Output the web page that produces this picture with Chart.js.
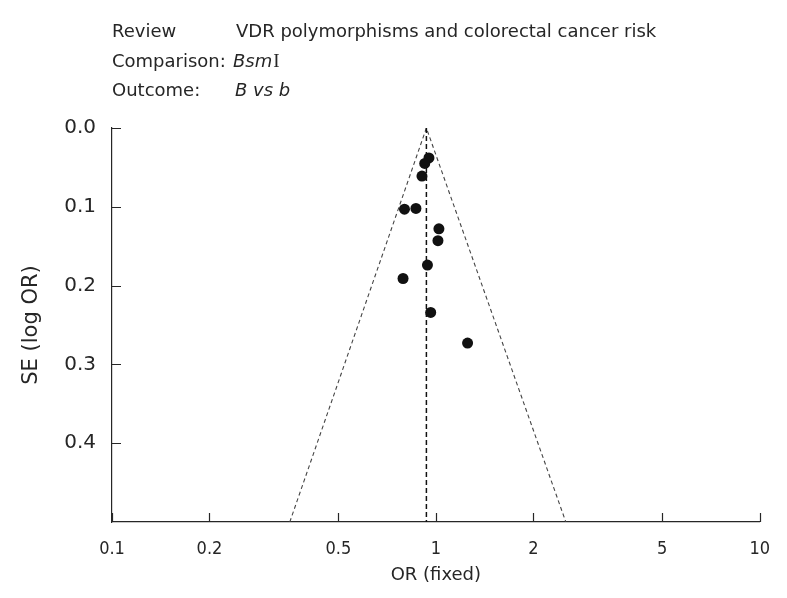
<!DOCTYPE html>
<html>
<head>
<meta charset="utf-8">
<script src="https://cdn.jsdelivr.net/npm/chart.js@4.4.0/dist/chart.umd.min.js"></script>
<style>
html,body{margin:0;padding:0;background:#fff;}
</style>
</head>
<body>
<canvas id="funnelChart" width="787" height="598"></canvas>
<script>
// study estimates
const studyOR = [0.952, 0.924, 0.906, 0.800, 0.868, 1.022, 1.015, 0.942, 0.792, 0.964, 1.253];
const studySE = [0.038, 0.045, 0.061, 0.103, 0.102, 0.128, 0.143, 0.174, 0.191, 0.234, 0.273];

// pooled estimate line and 95% funnel limits
const pooledOR = [0.935, 0.935];
const pooledSE = [0, 0.5];
const funnelOR = [0.354, 0.935, 2.52];
const funnelSE = [0.5, 0, 0.5];

const xTicks = [0.1, 0.2, 0.5, 1, 2, 5, 10];
const yTicks = [0, 0.1, 0.2, 0.3, 0.4];

const headerLabels = ['Review', 'Comparison:', 'Outcome:'];

const axisColor = '#262626';
const textColor = '#262626';

const toPoints = (xs, ys) => xs.map((x, i) => ({x: x, y: ys[i]}));

const headerPlugin = {
    id: 'header',
    afterDraw(chart) {
        const ctx = chart.ctx;
        ctx.save();
        ctx.fillStyle = textColor;
        ctx.textBaseline = 'alphabetic';
        ctx.textAlign = 'left';
        const rows = [37, 67, 96];
        ctx.font = '18px "DejaVu Sans"';
        headerLabels.forEach((t, i) => ctx.fillText(t, 112, rows[i]));
        // row 1
        ctx.fillText('VDR polymorphisms and colorectal cancer risk', 236, rows[0]);
        // row 2: italic Bsm + roman I
        ctx.font = 'italic 18px "DejaVu Sans"';
        ctx.fillText('Bsm', 233, rows[1]);
        const w = ctx.measureText('Bsm').width;
        ctx.font = '19px "Liberation Serif"';
        ctx.fillText('I', 233 + w + 1, rows[1]);
        // row 3
        ctx.font = 'italic 18px "DejaVu Sans"';
        ctx.fillText('B vs b', 235, rows[2]);
        ctx.restore();
    }
};

const inwardTicks = {
    id: 'inwardTicks',
    afterDraw(chart) {
        const {ctx, chartArea, scales} = chart;
        ctx.save();
        ctx.strokeStyle = axisColor;
        ctx.lineWidth = 1.2;
        ctx.beginPath();
        scales.x.ticks.forEach(t => {
            const px = Math.round(scales.x.getPixelForValue(t.value)) + 0.5;
            ctx.moveTo(px, chartArea.bottom);
            ctx.lineTo(px, chartArea.bottom - 9);
        });
        scales.y.ticks.forEach(t => {
            const py = Math.round(scales.y.getPixelForValue(t.value)) + 0.5;
            ctx.moveTo(chartArea.left, py);
            ctx.lineTo(chartArea.left + 9, py);
        });
        ctx.stroke();
        ctx.restore();
    }
};

const ctx = document.getElementById('funnelChart').getContext('2d');

const data = {
    datasets: [
        {
            label: 'Studies',
            data: toPoints(studyOR, studySE),
            backgroundColor: '#111',
            borderColor: '#111',
            borderWidth: 0,
            pointRadius: 5.5,
            showLine: false,
            order: 1
        },
        {
            label: 'Pooled',
            data: toPoints(pooledOR, pooledSE),
            showLine: true,
            borderColor: '#111',
            borderWidth: 1.5,
            borderDash: [5, 3],
            pointRadius: 0,
            order: 2
        },
        {
            label: 'Funnel',
            data: toPoints(funnelOR, funnelSE),
            showLine: true,
            borderColor: '#444',
            borderWidth: 1.1,
            borderDash: [4, 3],
            pointRadius: 0,
            order: 3
        }
    ]
};

const config = {
    type: 'scatter',
    data: data,
    options: {
        responsive: false,
        animation: false,
        devicePixelRatio: 1,
        layout: {
            padding: {top: 128, right: 26, left: 0, bottom: 0}
        },
        plugins: {
            legend: {display: false},
            tooltip: {enabled: false}
        },
        scales: {
            x: {
                type: 'logarithmic',
                min: 0.1,
                max: 10,
                afterBuildTicks: (scale) => {
                    scale.ticks = xTicks.map(v => ({value: v}));
                },
                afterFit: (scale) => { scale.height = 76; },
                grid: {display: false, drawTicks: false},
                border: {display: true, color: axisColor, width: 1.2},
                ticks: {
                    autoSkip: false,
                    maxRotation: 0,
                    padding: 17,
                    color: textColor,
                    font: {family: '"DejaVu Sans Condensed", "DejaVu Sans"', size: 18},
                    callback: (v) => String(v)
                },
                title: {
                    display: true,
                    text: 'OR (fixed)',
                    color: textColor,
                    font: {family: '"DejaVu Sans"', size: 18},
                    padding: {top: 0, bottom: 12}
                }
            },
            y: {
                type: 'linear',
                reverse: true,
                min: 0,
                max: 0.5,
                afterBuildTicks: (scale) => {
                    scale.ticks = yTicks.map(v => ({value: v}));
                },
                afterFit: (scale) => { scale.width = 112; },
                grid: {display: false, drawTicks: false},
                border: {display: true, color: axisColor, width: 1.2},
                ticks: {
                    padding: 16,
                    color: textColor,
                    font: {family: '"DejaVu Sans"', size: 20},
                    callback: (v) => v.toFixed(1)
                },
                title: {
                    display: true,
                    text: 'SE (log OR)',
                    color: textColor,
                    font: {family: '"DejaVu Sans"', size: 21},
                    padding: {top: 19, bottom: 0}
                }
            }
        }
    },
    plugins: [headerPlugin, inwardTicks]
};

const funnelChart = new Chart(ctx, config);
</script>
</body>
</html>
